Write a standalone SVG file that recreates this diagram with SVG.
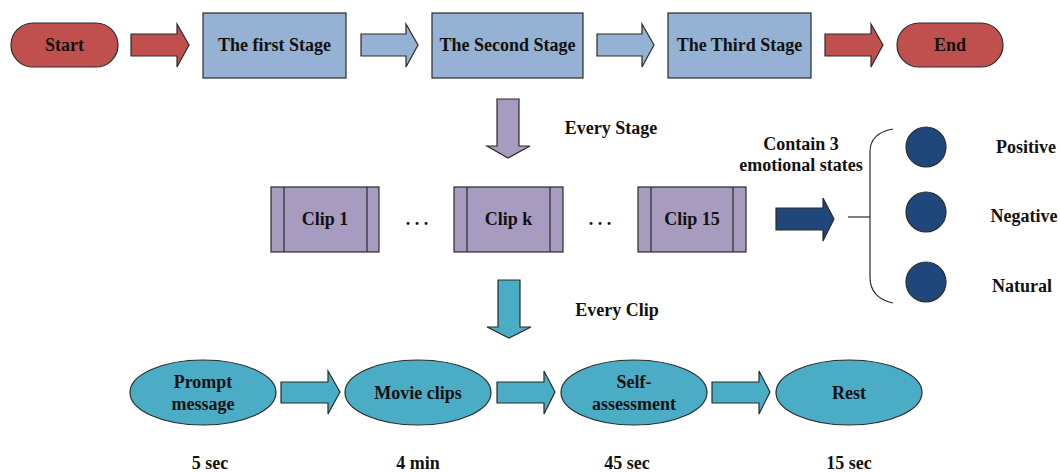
<svg xmlns="http://www.w3.org/2000/svg" width="1060" height="472" viewBox="0 0 1060 472">
  <style>
    text { font-family: "Liberation Serif", "Times New Roman", serif; font-weight: bold; font-size: 18px; fill: #111; text-anchor: middle; }
    .ln { stroke: #2b2b2b; stroke-width: 1.2; }
    .red { fill: #C0504D; }
    .stage { fill: #95B1D3; }
    .clip { fill: #A89BC0; }
    .navy { fill: #1F477C; }
    .cyan { fill: #4BACC6; }
  </style>

  <!-- connectors: block arrows and the brace -->
  <g id="connectors" class="ln">
    <path class="red" d="M131,34 H177 V24 L189,45 L177,67 V56 H131 Z"/>
    <path class="stage" d="M361,34 H406 V24 L418,45 L406,67 V56 H361 Z"/>
    <path class="stage" d="M597,34 H642 V24 L654,45 L642,67 V56 H597 Z"/>
    <path class="red" d="M825,34 H871 V24 L883,45 L871,67 V56 H825 Z"/>
    <path class="clip" d="M497,99 H519 V146 H530 L508,158 L487,146 H497 Z"/>
    <path class="navy" d="M776,208 H823 V198 L834,219 L823,241 V230 H776 Z"/>
    <line x1="848" y1="217" x2="870" y2="217"/>
    <path fill="none" d="M893,129 Q870,133 870,152 V277 Q870,298 893,303"/>
    <path class="cyan" d="M498,280 H520 V327 H531 L509,338 L487,327 H498 Z"/>
    <path class="cyan" d="M281,382 H328 V371 L340,392 L328,414 V403 H281 Z"/>
    <path class="cyan" d="M497,382 H544 V371 L555,392 L544,414 V403 H497 Z"/>
    <path class="cyan" d="M712,382 H759 V371 L770,392 L759,414 V403 H712 Z"/>
  </g>

  <!-- top row: start, three stages, end -->
  <g id="start">
    <rect class="red ln" x="11" y="23" width="107" height="44" rx="22"/>
    <text x="64.5" y="51">Start</text>
  </g>
  <g id="stage1">
    <rect class="stage ln" x="203" y="13" width="143" height="65"/>
    <text x="274.5" y="51">The first Stage</text>
  </g>
  <g id="stage2">
    <rect class="stage ln" x="432" y="13" width="151" height="65"/>
    <text x="507.5" y="51">The Second Stage</text>
  </g>
  <g id="stage3">
    <rect class="stage ln" x="668" y="13" width="143" height="65"/>
    <text x="739.5" y="51">The Third Stage</text>
  </g>
  <g id="end">
    <rect class="red ln" x="897" y="23" width="106" height="44" rx="22"/>
    <text x="950" y="51">End</text>
  </g>

  <text x="611" y="134">Every Stage</text>

  <!-- clip row -->
  <g id="clip1">
    <rect class="clip ln" x="271" y="187" width="108" height="65"/>
    <line class="ln" x1="284" y1="187" x2="284" y2="252"/>
    <line class="ln" x1="367" y1="187" x2="367" y2="252"/>
    <text x="325" y="225">Clip 1</text>
  </g>
  <text x="417" y="225">. . .</text>
  <g id="clipk">
    <rect class="clip ln" x="454" y="187" width="109" height="65"/>
    <line class="ln" x1="467" y1="187" x2="467" y2="252"/>
    <line class="ln" x1="550" y1="187" x2="550" y2="252"/>
    <text x="508.5" y="225">Clip k</text>
  </g>
  <text x="600" y="225">. . .</text>
  <g id="clip15">
    <rect class="clip ln" x="638" y="187" width="108" height="65"/>
    <line class="ln" x1="651" y1="187" x2="651" y2="252"/>
    <line class="ln" x1="733" y1="187" x2="733" y2="252"/>
    <text x="692" y="225">Clip 15</text>
  </g>

  <text x="801" y="150">Contain 3</text>
  <text x="801" y="171">emotional states</text>

  <!-- emotional states -->
  <g id="positive">
    <circle class="navy ln" cx="926" cy="147" r="20"/>
    <text x="1026" y="153">Positive</text>
  </g>
  <g id="negative">
    <circle class="navy ln" cx="926" cy="212" r="20"/>
    <text x="1024" y="222">Negative</text>
  </g>
  <g id="natural">
    <circle class="navy ln" cx="926" cy="282" r="20"/>
    <text x="1022" y="292">Natural</text>
  </g>

  <text x="617" y="316">Every Clip</text>

  <!-- clip procedure -->
  <g id="prompt">
    <ellipse class="cyan ln" cx="203" cy="392.5" rx="73" ry="32.5"/>
    <text x="203" y="388">Prompt</text>
    <text x="203" y="410">message</text>
    <text x="210" y="469">5 sec</text>
  </g>
  <g id="movie">
    <ellipse class="cyan ln" cx="418" cy="392.5" rx="73" ry="32.5"/>
    <text x="418" y="399">Movie clips</text>
    <text x="418" y="469">4 min</text>
  </g>
  <g id="self">
    <ellipse class="cyan ln" cx="634" cy="392.5" rx="73" ry="32.5"/>
    <text x="634" y="388">Self-</text>
    <text x="634" y="410">assessment</text>
    <text x="627" y="469">45 sec</text>
  </g>
  <g id="rest">
    <ellipse class="cyan ln" cx="849" cy="392.5" rx="73" ry="32.5"/>
    <text x="849" y="399">Rest</text>
    <text x="849" y="469">15 sec</text>
  </g>
</svg>
